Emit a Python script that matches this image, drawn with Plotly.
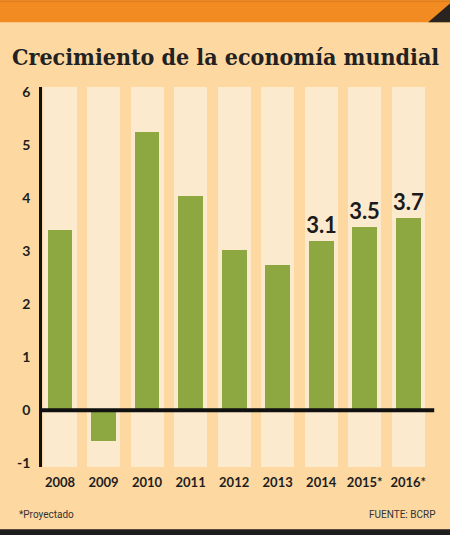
import plotly.graph_objects as go

years = ["2008", "2009", "2010", "2011", "2012", "2013", "2014", "2015*", "2016*"]
growth = [3.4, -0.57, 5.25, 4.04, 3.02, 2.74, 3.19, 3.46, 3.62]
value_labels = ["", "", "", "", "", "", "3.1", "3.5", "3.7"]
y_ticks = [-1, 0, 1, 2, 3, 4, 5, 6]
y_tick_text = ["-1", "0", "1", "2", "3", "4", "5", "6"]

Y_MIN, Y_MAX = -1.07, 6.1
W, H = 450, 535
L, R, T, B = 42, 20.2, 86.7, 68.3
PW, PH = W - L - R, H - T - B

def px(x):
    return (x - L) / PW

def py(y):
    return (H - B - y) / PH

BG = "#FDD8A1"
CREAM = "#FCEACF"
GREEN = "#8DA841"
ORANGE = "#F28B22"
DARK = "#1E1E1E"

fig = go.Figure()
fig.add_trace(go.Bar(
    x=years, y=[Y_MAX - Y_MIN] * len(years), base=[Y_MIN] * len(years),
    marker=dict(color=CREAM, line=dict(width=0)), width=0.76,
    hoverinfo="skip", showlegend=False,
))
fig.add_trace(go.Bar(
    x=years, y=growth, marker=dict(color=GREEN, line=dict(width=0)), width=0.57,
    text=value_labels, textposition="outside", cliponaxis=False, constraintext="none",
    textfont=dict(family="Lato", size=22, color="#1b1b1b", weight="bold"),
    showlegend=False,
))

shapes = [
    dict(type="rect", xref="paper", yref="paper", x0=px(0), x1=px(W), y0=py(0), y1=py(22),
         fillcolor=ORANGE, line=dict(width=0), layer="below"),
    dict(type="rect", xref="paper", yref="paper", x0=px(0), x1=px(W), y0=py(0), y1=py(2),
         fillcolor="#E27F1C", line=dict(width=0), layer="below"),
    dict(type="path", xref="paper", yref="paper",
         path=f"M {px(450)},{py(3)} L {px(450)},{py(22)} L {px(428)},{py(22)} Z",
         fillcolor="#2a2420", line=dict(width=0)),
    dict(type="rect", xref="paper", yref="paper", x0=px(0), x1=px(W), y0=py(529), y1=py(H),
         fillcolor=DARK, line=dict(width=0)),
    dict(type="line", xref="paper", yref="y", x0=0, x1=px(434), y0=0, y1=0,
         line=dict(color="#111111", width=4)),
]

fig.update_layout(
    width=W, height=H,
    margin=dict(l=L, r=R, t=T, b=B, pad=0),
    paper_bgcolor=BG, plot_bgcolor=BG,
    barmode="overlay", bargap=0,
    shapes=shapes,
    title=dict(text="<b>Crecimiento de la economía mundial</b>",
               xref="container", yref="container", x=12 / W, y=1 - 57 / H,
               xanchor="left", yanchor="middle",
               font=dict(family="DejaVu Serif Condensed, DejaVu Serif", size=23, color="#222222")),
    annotations=[
        dict(text="*Proyectado", xref="paper", yref="paper", x=px(17), y=py(514),
             xanchor="left", yanchor="middle", showarrow=False,
             font=dict(family="Liberation Sans Narrow, Roboto", size=10, color="#333333")),
        dict(text="FUENTE: BCRP", xref="paper", yref="paper", x=px(437), y=py(514),
             xanchor="right", yanchor="middle", showarrow=False,
             font=dict(family="Liberation Sans Narrow, Roboto", size=10, color="#333333")),
    ],
    xaxis=dict(range=[-0.414, 8.5], showgrid=False, zeroline=False, showline=False,
               ticks="", ticklabelstandoff=6,
               tickfont=dict(family="Lato", size=13, color="#1e1e1e", weight="bold")),
    yaxis=dict(range=[Y_MIN, Y_MAX], tickvals=y_ticks, ticktext=y_tick_text,
               showgrid=False, zeroline=False,
               showline=True, linecolor="#111111", linewidth=2.5, ticks="",
               ticklabelstandoff=6,
               tickfont=dict(family="Lato", size=14, color="#1e1e1e", weight="bold")),
)

fig.write_html("out.html", config={"displayModeBar": False},
               post_script="document.body.style.margin='0';document.body.style.overflow='hidden';")
